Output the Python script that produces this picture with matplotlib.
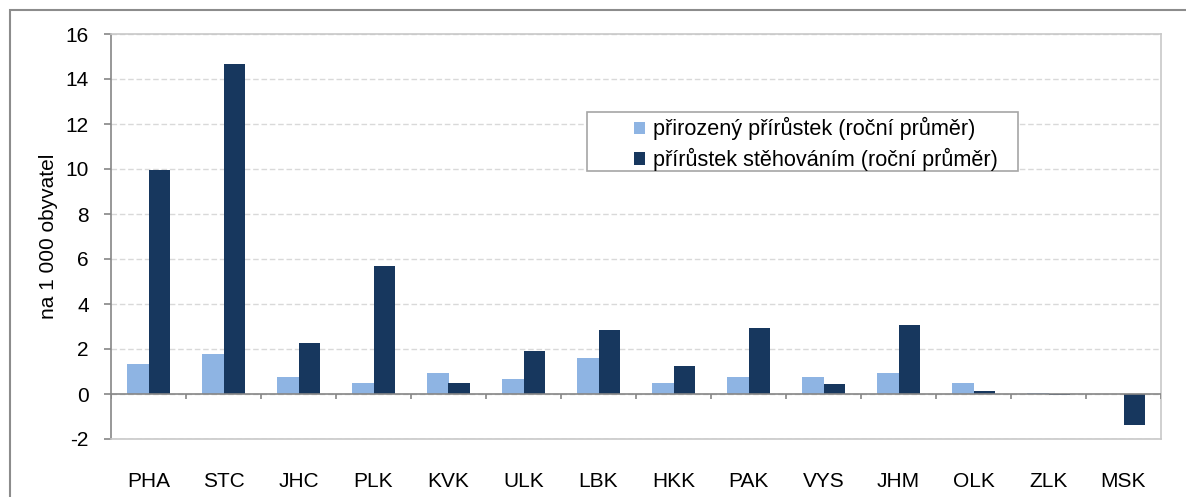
import numpy as np
import matplotlib
matplotlib.use("Agg")
import matplotlib.pyplot as plt
from matplotlib.patches import Rectangle

plt.rcParams['font.family'] = ['Liberation Sans', 'DejaVu Sans']
plt.rcParams['axes.unicode_minus'] = False

# kraje
regions = ['PHA', 'STC', 'JHC', 'PLK', 'KVK', 'ULK', 'LBK',
           'HKK', 'PAK', 'VYS', 'JHM', 'OLK', 'ZLK', 'MSK']
# prirozeny prirustek (rocni prumer), na 1 000 obyvatel
natural = [1.35, 1.8, 0.74, 0.49, 0.93, 0.67, 1.6,
           0.47, 0.75, 0.75, 0.93, 0.49, 0.03, -0.02]
# prirustek stehovanim (rocni prumer), na 1 000 obyvatel
migration = [9.95, 14.65, 2.25, 5.7, 0.49, 1.9, 2.85,
             1.25, 2.95, 0.45, 3.05, 0.13, -0.03, -1.38]

light = '#8EB4E3'
dark = '#17375E'

fig = plt.figure(figsize=(11.86, 4.97), dpi=100)
ax = fig.add_axes([111 / 1186, 1 - 439 / 497, 1050 / 1186, 405 / 497])

x = np.arange(len(regions))
w = 0.29
ax.bar(x - w / 2, natural, w, color=light, label='přirozený přírůstek (roční průměr)', zorder=3)
ax.bar(x + w / 2, migration, w, color=dark, label='přírůstek stěhováním (roční průměr)', zorder=3)

ax.set_xlim(-0.5, len(regions) - 0.5)
ax.set_ylim(-2, 16)
ax.set_yticks(np.arange(-2, 17, 2))
ax.yaxis.grid(True, color='#D9D9D9', linestyle=(0, (4, 2)), linewidth=1, zorder=0)
ax.set_axisbelow(True)

# zero line with category separators
ax.axhline(0, color='#868686', linewidth=1.2, zorder=4)
ax.vlines(np.arange(len(regions) + 1) - 0.5, -0.22, 0, color='#868686', linewidth=1.2, zorder=4)

ax.set_xticks(x)
ax.set_xticklabels(regions)
ax.tick_params(axis='x', length=0, pad=24, labelsize=15)
ax.tick_params(axis='y', length=5, width=1.2, color='#868686', pad=11, labelsize=15)

for side in ['top', 'right', 'bottom']:
    ax.spines[side].set_color('#C8C8C8')
    ax.spines[side].set_linewidth(1.2)
ax.spines['left'].set_color('#868686')
ax.spines['left'].set_linewidth(1.2)

ax.set_ylabel('na 1 000 obyvatel', fontsize=15, labelpad=5)

# legend with its own frame
ax.add_patch(Rectangle((587 / 1186, 1 - 171 / 497), 431 / 1186, 59 / 497,
                       transform=fig.transFigure, facecolor='white',
                       edgecolor='#A6A6A6', linewidth=1.2, zorder=5, clip_on=False))
leg = ax.legend(loc='upper left', bbox_to_anchor=(630 / 1186, 1 - 113 / 497),
                bbox_transform=fig.transFigure, frameon=False, fontsize=15.6,
                handlelength=0.5, handleheight=0.5, handletextpad=0.35,
                labelspacing=0.35, borderpad=0.2, borderaxespad=0)
leg.set_zorder(6)

# outer chart border
fig.patches.append(Rectangle((10 / 1186, -0.05), 1.1, 1 - 10 / 497 + 0.05,
                             transform=fig.transFigure, fill=False,
                             edgecolor='#8C8C8C', linewidth=1.5))

fig.savefig('out.png', dpi=100)
